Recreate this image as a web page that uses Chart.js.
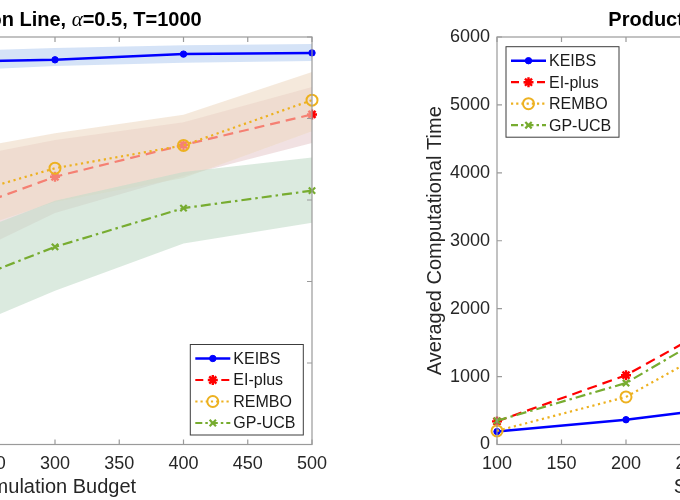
<!DOCTYPE html>
<html>
<head>
<meta charset="utf-8">
<script src="https://cdn.jsdelivr.net/npm/chart.js@4"></script>
<style>
  html, body { margin: 0; padding: 0; background: #fff; }
  #fig { position: relative; width: 680px; height: 500px; overflow: hidden; }
  .panel { position: absolute; top: 0; height: 500px; }
</style>
</head>
<body>
<div id="fig">
  <div class="panel" style="left:-300px;width:640px"><canvas id="perf" width="640" height="500"></canvas></div>
  <div class="panel" style="left:380px;width:660px"><canvas id="time" width="660" height="500"></canvas></div>
</div>
<script>
// simulation budgets shared by both panels
const budgets = [100, 200, 300, 400, 500];
const methods = ['KEIBS', 'EI-plus', 'REMBO', 'GP-UCB'];
const titleParts = ['Production Line, ', '\u03b1', '=0.5, T=1000'];

// left panel: mean curve and band edges
const keibsMean  = [0.920, 0.938, 0.944, 0.958, 0.961];
const keibsHigh  = [0.950, 0.963, 0.973, 0.980, 0.983];
const keibsLow   = [0.890, 0.914, 0.929, 0.937, 0.941];
const eiMean     = [0.420, 0.542, 0.657, 0.735, 0.810];
const eiHigh     = [0.600, 0.686, 0.747, 0.791, 0.877];
const eiLow      = [0.260, 0.416, 0.568, 0.659, 0.740];
const remboMean  = [0.480, 0.586, 0.678, 0.734, 0.845];
const remboHigh  = [0.630, 0.707, 0.764, 0.809, 0.914];
const remboLow   = [0.360, 0.490, 0.595, 0.654, 0.769];
const gpMean     = [0.220, 0.362, 0.485, 0.580, 0.623];
const gpHigh     = [0.360, 0.477, 0.598, 0.669, 0.704];
const gpLow      = [0.100, 0.244, 0.377, 0.493, 0.544];

// right panel: averaged computational time
const keibsTime = [190, 365, 600, 850, 1100];
const eiTime    = [340, 1020, 2080, 3300, 4700];
const remboTime = [200, 700, 1760, 2800, 4000];
const gpTime    = [350, 905, 2020, 3100, 4400];

const perfTicks = [0, 0.2, 0.4, 0.6, 0.8, 1];
const timeTicks = [0, 1000, 2000, 3000, 4000, 5000, 6000];

const styles = {
  'KEIBS':   { color: '#0000ff', dash: [], width: 2.5, point: 'circle', r: 3.2, pw: 1, filled: true,  band: 'rgba(185,208,242,0.6)' },
  'EI-plus': { color: '#ff0000', dash: [10, 6], width: 2.2, point: 'star', r: 5, pw: 2.4, filled: false, band: 'rgba(232,205,207,0.6)' },
  'REMBO':   { color: '#edb120', dash: [2.2, 3.6], width: 2.2, point: 'circle', r: 5.5, pw: 2, filled: false, band: 'rgba(238,218,196,0.59)' },
  'GP-UCB':  { color: '#77ac30', dash: [10, 4, 2.5, 4], width: 2.2, point: 'crossRot', r: 4.5, pw: 2.2, filled: false, band: 'rgba(195,220,202,0.6)' }
};

const FONT = '"Liberation Sans", Arial, Helvetica, sans-serif';
const pts = vals => budgets.map((b, i) => ({ x: b, y: vals[i] }));

function lineSet(name, vals, order) {
  const s = styles[name];
  return {
    label: name, data: pts(vals), order: order,
    borderColor: s.color, borderWidth: s.width, borderDash: s.dash, borderCapStyle: 'butt',
    pointStyle: s.point, pointRadius: s.r, pointBorderWidth: s.pw,
    pointBorderColor: s.color, pointBackgroundColor: s.filled ? s.color : 'rgba(0,0,0,0)',
    fill: false, tension: 0, clip: false
  };
}

function drawMarker(ctx, s, x, y) {
  const r = s.r;
  ctx.save();
  ctx.setLineDash([]);
  ctx.strokeStyle = s.color; ctx.fillStyle = s.color; ctx.lineWidth = s.pw;
  ctx.beginPath();
  if (s.point === 'circle') {
    ctx.arc(x, y, r, 0, Math.PI * 2);
    if (s.filled) ctx.fill();
    ctx.stroke();
  } else {
    const angles = s.point === 'star' ? [0, 45, 90, 135] : [45, 135];
    angles.forEach(a => {
      const dx = Math.cos(a * Math.PI / 180) * r, dy = Math.sin(a * Math.PI / 180) * r;
      ctx.moveTo(x - dx, y - dy); ctx.lineTo(x + dx, y + dy);
    });
    ctx.stroke();
  }
  ctx.restore();
}

// MATLAB-like box with inward ticks on all four sides
const framePlugin = {
  id: 'frame',
  afterDatasetsDraw(chart) {
    const a = chart.chartArea, ctx = chart.ctx, sx = chart.scales.x, sy = chart.scales.y;
    ctx.save();
    ctx.strokeStyle = '#9a9a9a'; ctx.lineWidth = 1.2; ctx.setLineDash([]);
    ctx.strokeRect(a.left, a.top, a.right - a.left, a.bottom - a.top);
    ctx.beginPath();
    sx.ticks.forEach(t => {
      const px = sx.getPixelForValue(t.value);
      ctx.moveTo(px, a.bottom); ctx.lineTo(px, a.bottom - 5);
      ctx.moveTo(px, a.top); ctx.lineTo(px, a.top + 5);
    });
    sy.ticks.forEach(t => {
      const py = sy.getPixelForValue(t.value);
      ctx.moveTo(a.left, py); ctx.lineTo(a.left + 5, py);
      ctx.moveTo(a.right, py); ctx.lineTo(a.right - 5, py);
    });
    ctx.stroke();
    ctx.restore();
  }
};

// bold title with an italic alpha, centred over the axes
const titlePlugin = {
  id: 'mtitle',
  afterDraw(chart) {
    const a = chart.chartArea, ctx = chart.ctx;
    const fonts = ['bold 20px ' + FONT, 'italic 21px "Liberation Serif", "Times New Roman", serif', 'bold 20px ' + FONT];
    ctx.save();
    let total = 0;
    const widths = titleParts.map((t, i) => { ctx.font = fonts[i]; const w = ctx.measureText(t).width; total += w; return w; });
    let x = (a.left + a.right) / 2 - total / 2;
    ctx.fillStyle = '#000'; ctx.textBaseline = 'middle'; ctx.textAlign = 'left';
    titleParts.forEach((t, i) => { ctx.font = fonts[i]; ctx.fillText(t, x, 20); x += widths[i]; });
    ctx.restore();
  }
};

const keyPlugin = {
  id: 'key',
  afterDraw(chart, args, o) {
    const a = chart.chartArea, ctx = chart.ctx;
    const w = 113, h = 90.5;
    const left = o.corner === 'br' ? a.right - 8.7 - w : a.left + 9;
    const top = o.corner === 'br' ? a.bottom - 9.5 - h : a.top + 9.7;
    ctx.save();
    ctx.fillStyle = '#fff'; ctx.fillRect(left, top, w, h);
    ctx.strokeStyle = '#3c3c3c'; ctx.lineWidth = 1; ctx.strokeRect(left, top, w, h);
    methods.forEach((m, i) => {
      const s = styles[m];
      const y = top + 14 + i * 21.5;
      ctx.beginPath();
      ctx.setLineDash(s.point === 'circle' && !s.filled ? [2.2, 3] : (m === 'EI-plus' ? [8, 5] : (m === 'GP-UCB' ? [7, 3, 2.5, 3] : [])));
      ctx.strokeStyle = s.color; ctx.lineWidth = s.width;
      ctx.moveTo(left + 5, y); ctx.lineTo(left + 40, y); ctx.stroke();
      ctx.setLineDash([]);
      drawMarker(ctx, s, left + 22.5, y);
      ctx.fillStyle = '#1a1a1a'; ctx.font = '16px ' + FONT;
      ctx.textBaseline = 'middle'; ctx.textAlign = 'left';
      ctx.fillText(m, left + 43, y + 1);
    });
    ctx.restore();
  }
};

function axes(yMin, yMax, yStep, yWidth, yTitle) {
  return {
    x: {
      type: 'linear', min: 100, max: 500,
      afterBuildTicks: s => { s.ticks = budgets.concat([150, 250, 350, 450]).sort((p, q) => p - q).map(v => ({ value: v })); },
      afterFit: s => { s.height = 55.5; },
      grid: { display: false, drawTicks: false }, border: { display: false },
      ticks: { padding: 9, color: '#262626', font: { family: FONT, size: 18 }, callback: v => String(v) },
      title: { display: true, text: 'Simulation Budget', color: '#262626', font: { family: FONT, size: 20 }, padding: { top: 0, bottom: 1 } }
    },
    y: {
      type: 'linear', min: yMin, max: yMax,
      ticks: { stepSize: yStep, padding: 7, color: '#262626', font: { family: FONT, size: 18 }, callback: v => String(v) },
      afterFit: s => { s.width = yWidth; },
      grid: { display: false, drawTicks: false }, border: { display: false },
      title: { display: !!yTitle, text: yTitle, color: '#262626', font: { family: FONT, size: 20 }, padding: { top: 43, bottom: 0 } }
    }
  };
}

// ---- left panel ----
const perfSets = [];
[[keibsMean, keibsHigh, keibsLow], [eiMean, eiHigh, eiLow], [remboMean, remboHigh, remboLow], [gpMean, gpHigh, gpLow]]
  .forEach(([mean, hi, lo], i) => {
    const name = methods[i], bandOrder = 8 - 2 * i;
    const lowIdx = perfSets.length;
    perfSets.push({ label: name + ' low', data: pts(lo), order: bandOrder, borderWidth: 0, pointRadius: 0, fill: false });
    perfSets.push({ label: name + ' high', data: pts(hi), order: bandOrder, borderWidth: 0, pointRadius: 0,
      fill: { target: lowIdx }, backgroundColor: styles[name].band });
    perfSets.push(lineSet(name, mean, bandOrder - 1));
  });

new Chart(document.getElementById('perf'), {
  type: 'line',
  data: { datasets: perfSets },
  options: {
    responsive: false, animation: false, events: [],
    layout: { padding: { top: 37, right: 28, left: 0, bottom: 0 } },
    scales: axes(perfTicks[0], perfTicks[perfTicks.length - 1], 0.2, 98, ''),
    plugins: { legend: { display: false }, tooltip: { enabled: false }, key: { corner: 'br' } }
  },
  plugins: [framePlugin, titlePlugin, keyPlugin]
});

// ---- right panel ----
new Chart(document.getElementById('time'), {
  type: 'line',
  data: { datasets: [
    lineSet('KEIBS', keibsTime, 4),
    lineSet('EI-plus', eiTime, 3),
    lineSet('REMBO', remboTime, 2),
    lineSet('GP-UCB', gpTime, 1)
  ] },
  options: {
    responsive: false, animation: false, events: [],
    layout: { padding: { top: 37, right: 27, left: 0, bottom: 0 } },
    scales: axes(timeTicks[0], timeTicks[timeTicks.length - 1], 1000, 117, 'Averaged Computational Time'),
    plugins: { legend: { display: false }, tooltip: { enabled: false }, key: { corner: 'tl' } }
  },
  plugins: [framePlugin, titlePlugin, keyPlugin]
});
</script>
</body>
</html>
